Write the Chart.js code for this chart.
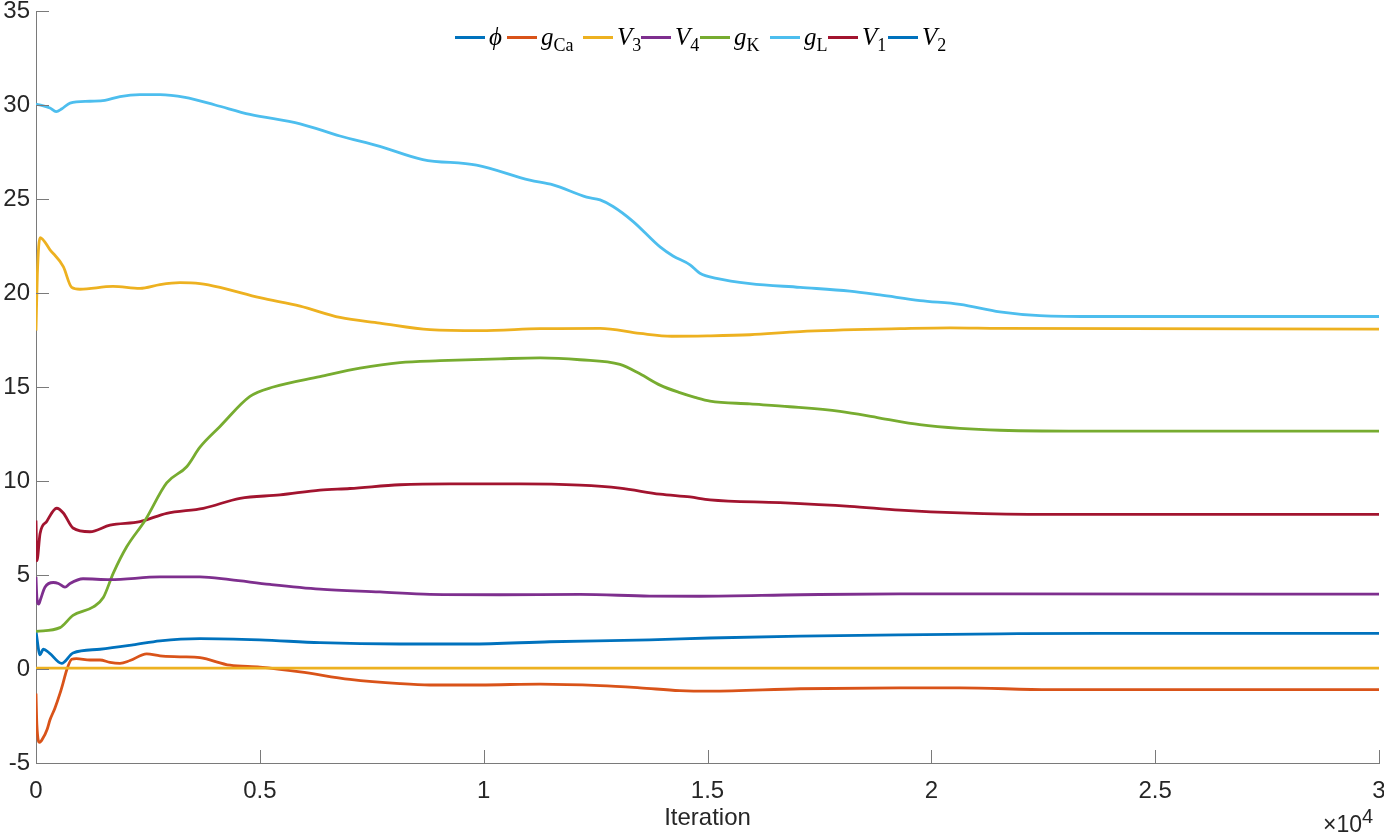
<!DOCTYPE html>
<html>
<head>
<meta charset="utf-8">
<script src="https://cdn.jsdelivr.net/npm/chart.js@4.4.1/dist/chart.umd.min.js"></script>
<style>
  html, body { margin: 0; padding: 0; background: #fff; }
  #wrap { position: relative; width: 1384px; height: 836px; overflow: hidden; }
  #chart { position: absolute; left: 0; top: 0; }
  .leg { position: absolute; top: 22px; height: 30px; display: flex; align-items: center;
         font-family: "Liberation Serif", "DejaVu Serif", serif; font-size: 25px; color: #000; white-space: nowrap; }
  .leg .sw { display: inline-block; width: 30px; height: 3px; margin-right: 4px; }
  .leg .txt { display: inline-block; line-height: 30px; }
  .leg i { font-style: italic; }
  .leg sub { font-style: normal; font-size: 18px; vertical-align: -6px; line-height: 0; }
  #xexp { position: absolute; left: 1323px; top: 811px; font-family: "Liberation Sans", Arial, sans-serif;
          font-size: 23px; color: #262626; white-space: nowrap; }
  #xexp sup { font-size: 20px; vertical-align: 9px; line-height: 0; }
</style>
</head>
<body>
<div id="wrap">
  <canvas id="chart" width="1384" height="836"></canvas>
  <div id="legend"></div>
  <div id="xexp">×10<sup>4</sup></div>
</div>
<script>
'use strict';

/* ── Data ────────────────────────────────────────────────── */

const legendNames = ['ϕ', 'g|Ca', 'V|3', 'V|4', 'g|K', 'g|L', 'V|1', 'V|2'];
const legendColors = ['#0072BD', '#D95319', '#EDB120', '#7E2F8E', '#77AC30', '#4DBEEE', '#A2142F', '#0072BD'];
// phi is drawn in yellow in the picture even though its legend swatch is blue
const lineColors = ['#EDB120', '#D95319', '#EDB120', '#7E2F8E', '#77AC30', '#4DBEEE', '#A2142F', '#0072BD'];

const xTicks = [0, 5000, 10000, 15000, 20000, 25000, 30000];
const yTicks = [-5, 0, 5, 10, 15, 20, 25, 30, 35];

const phiIter = [0, 15000, 30000];
const phiVal  = [0.05, 0.05, 0.05];

const gCaIter = [0, 20, 80, 150, 250, 313, 420, 536, 610, 686, 797, 900, 1206, 1430, 1653, 1876, 2100, 2473, 2770, 3216, 3663, 4333, 5000, 5900, 7013, 8130, 8800, 9920, 11260, 12600, 13490, 14380, 15055, 17070, 19300, 20640, 22650, 30000];
const gCaVal  = [-1.3, -3.0, -3.9, -3.7, -3.2, -2.7, -2.1, -1.3, -0.7, -0.05, 0.52, 0.55, 0.48, 0.48, 0.35, 0.3, 0.45, 0.8, 0.7, 0.65, 0.6, 0.2, 0.1, -0.15, -0.55, -0.78, -0.85, -0.85, -0.8, -0.88, -1.0, -1.15, -1.18, -1.05, -1.0, -1.0, -1.1, -1.1];

const v3Iter = [0, 30, 90, 313, 610, 797, 983, 1720, 2323, 2770, 3216, 3663, 4110, 5000, 5900, 6790, 7680, 8800, 9920, 11260, 12600, 13490, 14200, 15000, 15950, 17070, 19300, 20420, 21530, 30000];
const v3Val  = [18.0, 21.0, 22.95, 22.3, 21.4, 20.3, 20.2, 20.35, 20.25, 20.45, 20.55, 20.5, 20.3, 19.75, 19.3, 18.7, 18.4, 18.05, 18.0, 18.1, 18.12, 17.85, 17.7, 17.72, 17.78, 17.95, 18.1, 18.15, 18.12, 18.08];

const v4Iter = [0, 20, 60, 100, 200, 386, 500, 648, 760, 1050, 1653, 2770, 3663, 4333, 5230, 6343, 7680, 8800, 10360, 12150, 13710, 14830, 17070, 19300, 21530, 30000];
const v4Val  = [4.9, 3.8, 3.45, 3.7, 4.35, 4.6, 4.55, 4.35, 4.55, 4.8, 4.75, 4.9, 4.9, 4.75, 4.5, 4.25, 4.1, 3.97, 3.95, 3.97, 3.88, 3.87, 3.95, 4.0, 4.0, 3.98];

const gKIter = [0, 536, 826, 1280, 1503, 1727, 2026, 2435, 2919, 3366, 3663, 4110, 4780, 5300, 6343, 7237, 8130, 9024, 10360, 11260, 12150, 13044, 13490, 13940, 14380, 14720, 15055, 15950, 16840, 17960, 18850, 19740, 20640, 21530, 23770, 30000];
const gKVal  = [2.0, 2.2, 2.85, 3.3, 3.8, 5.1, 6.5, 7.9, 9.9, 10.76, 11.8, 12.9, 14.5, 15.0, 15.55, 16.0, 16.3, 16.4, 16.5, 16.55, 16.45, 16.2, 15.7, 15.1, 14.7, 14.45, 14.25, 14.1, 13.95, 13.7, 13.35, 13.0, 12.8, 12.7, 12.65, 12.65];

const gLIter = [0, 313, 450, 580, 760, 1206, 1540, 1876, 2323, 2770, 3330, 4000, 4780, 5900, 6790, 7680, 8640, 9840, 11030, 11550, 12300, 12600, 12890, 13340, 13940, 14230, 14610, 14830, 15200, 15950, 17070, 18180, 18850, 19750, 20640, 21530, 22420, 23770, 30000];
const gLVal  = [30.05, 29.84, 29.65, 29.8, 30.1, 30.2, 30.25, 30.45, 30.55, 30.55, 30.4, 30.0, 29.5, 29.0, 28.35, 27.8, 27.1, 26.8, 26.0, 25.75, 25.1, 24.95, 24.6, 23.8, 22.45, 21.97, 21.5, 21.05, 20.78, 20.5, 20.3, 20.1, 19.9, 19.6, 19.4, 19.0, 18.8, 18.75, 18.75];

const v1Iter = [0, 20, 90, 239, 462, 610, 826, 1206, 1653, 2323, 2919, 3737, 4557, 5450, 6343, 7013, 8130, 9247, 10810, 12150, 13044, 13940, 14610, 15055, 16620, 18180, 19300, 20640, 22650, 30000];
const v1Val  = [7.9, 5.75, 7.2, 7.85, 8.55, 8.3, 7.5, 7.3, 7.65, 7.84, 8.28, 8.55, 9.08, 9.26, 9.52, 9.6, 9.8, 9.85, 9.85, 9.78, 9.62, 9.3, 9.15, 9.0, 8.85, 8.65, 8.45, 8.3, 8.22, 8.22];

const v2Iter = [0, 90, 163, 300, 574, 826, 1430, 2167, 2770, 3663, 5000, 6343, 8130, 9694, 11480, 13710, 15055, 17070, 19300, 21530, 23770, 30000];
const v2Val  = [2.0, 0.75, 1.05, 0.85, 0.3, 0.85, 1.05, 1.28, 1.5, 1.62, 1.55, 1.4, 1.33, 1.33, 1.45, 1.55, 1.65, 1.75, 1.82, 1.87, 1.9, 1.9];

const seriesIters = [phiIter, gCaIter, v3Iter, v4Iter, gKIter, gLIter, v1Iter, v2Iter];
const seriesVals  = [phiVal, gCaVal, v3Val, v4Val, gKVal, gLVal, v1Val, v2Val];

/* ── Chart ───────────────────────────────────────────────── */

const AXIS_COLOR = '#7a7a7a';
const TEXT_COLOR = '#262626';
const TICK_FONT = { family: '"Liberation Sans", Arial, sans-serif', size: 24 };

// MATLAB-style ticks drawn inward from the axis lines
const inwardTicks = {
  id: 'inwardTicks',
  afterDraw(chart) {
    const { ctx, chartArea, scales } = chart;
    ctx.save();
    ctx.strokeStyle = AXIS_COLOR;
    ctx.lineWidth = 1;
    ctx.beginPath();
    xTicks.forEach(v => {
      const px = Math.round(scales.x.getPixelForValue(v)) + 0.5;
      ctx.moveTo(px, chartArea.bottom);
      ctx.lineTo(px, chartArea.bottom - 13);
    });
    yTicks.forEach(v => {
      const py = Math.round(scales.y.getPixelForValue(v)) + 0.5;
      ctx.moveTo(chartArea.left, py);
      ctx.lineTo(chartArea.left + 13, py);
    });
    ctx.stroke();
    ctx.restore();
  },
};

// drop the label-overflow padding so the plot box is set by layout.padding alone
function noOverflow(s) {
  s.paddingLeft = 0;
  s.paddingRight = 0;
  s.paddingTop = 0;
  s.paddingBottom = 0;
}

const datasets = legendNames.map((name, i) => ({
  label: name,
  data: seriesIters[i].map((x, j) => ({ x, y: seriesVals[i][j] })),
  borderColor: lineColors[i],
  backgroundColor: lineColors[i],
  borderWidth: 2.8,
  pointRadius: 0,
  cubicInterpolationMode: 'monotone',
  fill: false,
}));

new Chart(document.getElementById('chart'), {
  type: 'line',
  data: { datasets },
  plugins: [inwardTicks],
  options: {
    responsive: false,
    animation: false,
    layout: { autoPadding: false, padding: { top: 11, right: 5, left: 0, bottom: 0 } },
    plugins: {
      legend: { display: false },
      tooltip: { enabled: false },
    },
    scales: {
      x: {
        type: 'linear',
        min: 0,
        max: 30000,
        afterFit: s => { noOverflow(s); s.height = 73; },
        afterBuildTicks: s => { s.ticks = xTicks.map(value => ({ value })); },
        grid: { display: false, drawTicks: false },
        border: { display: true, color: AXIS_COLOR, width: 1 },
        ticks: {
          color: TEXT_COLOR,
          font: TICK_FONT,
          padding: 14,
          maxRotation: 0,
          callback: v => String(v / 10000),
        },
        title: {
          display: true,
          text: 'Iteration',
          color: TEXT_COLOR,
          font: TICK_FONT,
          padding: { top: 0, bottom: 3 },
        },
      },
      y: {
        type: 'linear',
        min: -5,
        max: 35,
        afterFit: s => { noOverflow(s); s.width = 36; },
        afterBuildTicks: s => { s.ticks = yTicks.map(value => ({ value })); },
        grid: { display: false, drawTicks: false },
        border: { display: true, color: AXIS_COLOR, width: 1 },
        ticks: {
          color: TEXT_COLOR,
          font: TICK_FONT,
          padding: 6,
        },
      },
    },
  },
});

/* ── Legend (HTML so the subscripts stay real text) ──────── */

const legendLefts = [455, 507, 583, 641, 700, 770, 828, 888];
const legendEl = document.getElementById('legend');
legendNames.forEach((name, i) => {
  const [base, sub] = name.split('|');
  const item = document.createElement('div');
  item.className = 'leg';
  item.style.left = legendLefts[i] + 'px';
  item.innerHTML = `<span class="sw" style="background:${legendColors[i]}"></span>` +
    `<span class="txt"><i>${base}</i>` + (sub ? `<sub>${sub}</sub>` : '') + '</span>';
  legendEl.appendChild(item);
});
</script>
</body>
</html>
